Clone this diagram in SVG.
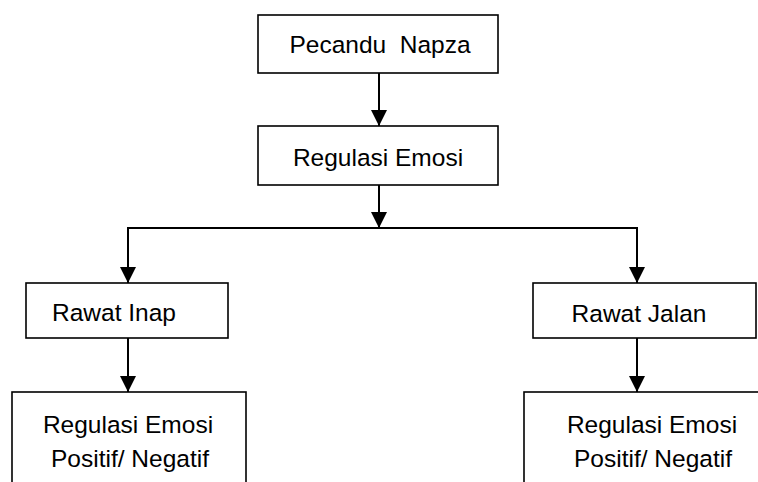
<svg xmlns="http://www.w3.org/2000/svg" width="758" height="482" viewBox="0 0 758 482">
<style>
.box{fill:#fff;stroke:#000;stroke-width:1.6}
.lbl{font-family:"Liberation Sans",Arial,sans-serif;font-size:24.5px;fill:#000;text-anchor:middle}
.ln{fill:none;stroke:#000;stroke-width:2}
</style>
<defs>
<marker id="ah" markerUnits="userSpaceOnUse" markerWidth="16" markerHeight="16" refX="16" refY="8" orient="auto" viewBox="0 0 16 16">
<path d="M0,0 L16,8 L0,16 Z" fill="#000"/>
</marker>
</defs>
<rect width="758" height="482" fill="#fff"/>
<g id="connectors">
<line class="ln" x1="379" y1="73" x2="379" y2="126" marker-end="url(#ah)"/>
<line class="ln" x1="379" y1="185" x2="379" y2="228" marker-end="url(#ah)"/>
<line class="ln" x1="127" y1="228" x2="638" y2="228"/>
<line class="ln" x1="128" y1="228" x2="128" y2="283" marker-end="url(#ah)"/>
<line class="ln" x1="637" y1="228" x2="637" y2="283" marker-end="url(#ah)"/>
<line class="ln" x1="128" y1="338" x2="128" y2="392" marker-end="url(#ah)"/>
<line class="ln" x1="637" y1="338" x2="637" y2="392" marker-end="url(#ah)"/>
</g>
<g id="pecandu">
<rect class="box" x="258" y="15" width="240" height="58"/>
<text class="lbl" x="380" y="53" xml:space="preserve">Pecandu  Napza</text>
</g>
<g id="regulasi">
<rect class="box" x="258" y="126" width="240" height="59"/>
<text class="lbl" x="378" y="166">Regulasi Emosi</text>
</g>
<g id="rawat-inap">
<rect class="box" x="26" y="283" width="202" height="55"/>
<text class="lbl" x="114" y="321">Rawat Inap</text>
</g>
<g id="rawat-jalan">
<rect class="box" x="533" y="283" width="223" height="55"/>
<text class="lbl" x="639" y="322">Rawat Jalan</text>
</g>
<g id="hasil-inap">
<rect class="box" x="12" y="392" width="234" height="100"/>
<text class="lbl" x="128" y="433">Regulasi Emosi</text>
<text class="lbl" x="130" y="467">Positif/ Negatif</text>
</g>
<g id="hasil-jalan">
<rect class="box" x="524" y="392" width="250" height="100"/>
<text class="lbl" x="652" y="433">Regulasi Emosi</text>
<text class="lbl" x="653" y="467">Positif/ Negatif</text>
</g>
</svg>
